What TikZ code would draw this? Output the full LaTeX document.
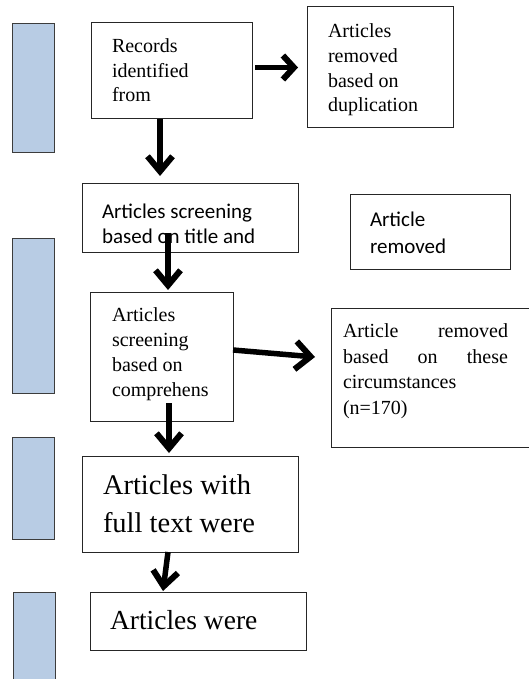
\documentclass[tikz,border=0pt]{standalone}
\usepackage{fontspec}
\usetikzlibrary{arrows.meta}
\newfontfamily\garfont{Liberation Serif}
\newfontfamily\calfont{Carlito}
\definecolor{sidefill}{RGB}{184,204,228}
\definecolor{sideline}{RGB}{60,60,60}
\begin{document}
\begin{tikzpicture}[x=1pt,y=-1pt,
  box/.style={draw=black!85,line width=1pt,inner sep=0pt,outer sep=0pt,anchor=north west},
  side/.style={draw=sideline,fill=sidefill,line width=1pt,inner sep=0pt,outer sep=0pt,anchor=north west,minimum width=42pt},
  txt/.style={anchor=base west,inner sep=0pt,outer sep=0pt},
  gs/.style={txt,font=\garfont\fontsize{20}{26}\selectfont},
  cs/.style={txt,font=\calfont\fontsize{21}{27}\selectfont},
  gl/.style={txt,font=\garfont\fontsize{28.5}{38}\selectfont},
  arr/.style={line width=5.5pt,-{Straight Barb[length=15pt,width=25pt,line width=0pt 1.1]}},
  arrshort/.style={line width=5.5pt,-{Straight Barb[length=11pt,width=24pt,line width=0pt 1.1]}}]
\useasboundingbox (0,0) rectangle (529,679);
\clip (0,0) rectangle (529,679);
% side bars
\node[side,minimum height=129pt] (s1) at (12,24) {};
\node[side,minimum height=155pt] (s2) at (12,238) {};
\node[side,minimum height=102pt] (s3) at (12,437) {};
\node[side,minimum height=100pt] (s4) at (13,592) {};
% boxes
\node[box,minimum width=161pt,minimum height=96pt] (a) at (91,23) {};
\node[box,minimum width=146pt,minimum height=121pt] (b) at (307,7) {};
\node[box,minimum width=216pt,minimum height=69pt] (c) at (82,183) {};
\node[box,minimum width=160pt,minimum height=75pt] (d) at (350,194) {};
\node[box,minimum width=143pt,minimum height=129pt] (e) at (90,292) {};
\node[box,minimum width=220pt,minimum height=139pt] (f) at (331,308) {};
\node[box,minimum width=216pt,minimum height=96pt] (g) at (82,456) {};
\node[box,minimum width=216pt,minimum height=58pt] (h) at (90,592) {};
% texts
\node[gs] (a1) at (112,53) {Records};
\node[gs] (a2) at (112,78) {identified};
\node[gs] (a3) at (112,102) {from};
\node[gs] (b1) at (328,38) {Articles};
\node[gs] (b2) at (328,63) {removed};
\node[gs] (b3) at (328,88) {based on};
\node[gs] (b4) at (328,112) {duplication};
\node[cs] (c1) at (102,218) {Articles screening};
\node[cs] (c2) at (102,243) {based on title and};
\node[cs] (d1) at (370,226) {Article};
\node[cs] (d2) at (370,253) {removed};
\node[gs] (e1) at (112,321) {Articles};
\node[gs] (e2) at (112,346) {screening};
\node[gs] (e3) at (112,371) {based on};
\node[gs] (e4) at (112,396) {comprehens};
\node[gs] (f1) at (343,337) {\hbox to 165pt{Article\hfill removed}};
\node[gs] (f2) at (343,363) {\hbox to 165pt{based\hfill on\hfill these}};
\node[gs] (f3) at (343,388) {circumstances};
\node[gs] (f4) at (343,414) {(n=170)};
\node[gl] (g1) at (103,494) {Articles with};
\node[gl] (g2) at (103,532) {full text were};
\node[gl,font=\garfont\fontsize{27.5}{36}\selectfont] (h1) at (110,629) {Articles were};
% arrows
\draw[arrshort] ([xshift=3pt]a.east |- b.west) -- ([xshift=-9pt]b.west);
\draw[arr] ([xshift=69pt]a.south west) -- ([xshift=69pt,yshift=7pt]a.south west |- c.north);
\draw[arr] ([xshift=86pt,yshift=19pt]c.south west) -- ([xshift=86pt,yshift=2pt]c.south west |- e.north);
\draw[arr] ([xshift=79pt,yshift=18pt]e.south west) -- ([xshift=79pt,yshift=3pt]e.south west |- g.north);
\draw[arr,-{Straight Barb[length=15pt,width=28pt,line width=0pt 1.1]}] ([yshift=6.5pt]e.east) -- ([xshift=-16pt,yshift=20.5pt]f.west);
\draw[arr] ([xshift=86pt]g.south west) -- ([xshift=73pt,yshift=1pt]h.north west);
\end{tikzpicture}
\end{document}
